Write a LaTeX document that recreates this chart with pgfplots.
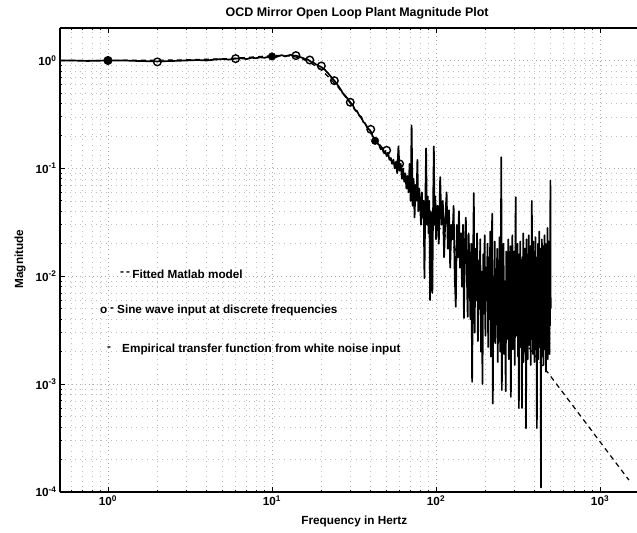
\documentclass[border=0pt]{standalone}
\usepackage{fontspec}
\setmainfont{Liberation Sans}
\usepackage{pgfplots}
\pgfplotsset{compat=1.18}
\newcommand\lab{\fontsize{11.8}{14}\selectfont\bfseries}
\newcommand\ttl{\fontsize{12.5}{15}\selectfont\bfseries}
\pgfplotstableread{
f m
0.51 1.0004
1 1.0015
2 1.006
3 1.0134
5 1.036
7 1.066
9 1.096
10 1.107
11 1.112
12 1.110
13 1.098
14 1.075
15 1.045
17 0.96
20 0.82
25 0.58
30 0.40
35 0.29
40 0.22
50 0.135
70 0.067
100 0.031
150 0.0135
200 0.0075
300 0.0033
500 0.00118
700 0.00060
1000 0.000292
1500 0.000129
}\fitted
\pgfplotstableread{
f m
1 1.00
2 0.97
6 1.04
14 1.11
17 1.01
20 0.89
24 0.65
30 0.41
40 0.23
50 0.147
60 0.11
}\sineopen
\pgfplotstableread{
f m
1 1.00
10 1.09
42.5 0.18
}\sinefilled
\pgfplotstableread{
f m
0.51 1.00
0.6 1.00
0.75 0.99
1.0 1.00
1.25 1.00
1.5 0.99
2.0 0.98
2.5 0.99
3.0 1.00
3.5 1.01
4.0 1.00
4.5 1.02
5.0 1.03
5.5 1.02
6.0 1.04
6.5 1.05
7.0 1.03
7.5 1.06
8.0 1.05
8.5 1.07
9.0 1.06
9.5 1.08
10 1.09
10.5 1.07
11 1.10
11.5 1.12
12 1.09
12.5 1.11
13 1.13
13.5 1.10
14 1.11
14.5 1.09
15 1.07
15.5 1.05
16 1.03
16.5 1.02
17 0.99
17.5 0.96
18 0.95
18.5 0.92
19 0.91
19.5 0.88
20 0.87
21 0.82
22 0.76
23 0.70
24 0.65
25 0.60
26 0.55
27 0.50
28 0.47
29 0.44
30 0.41
31 0.39
32 0.35
33 0.34
34 0.31
35 0.30
36 0.27
37 0.26
38 0.24
39 0.23
40 0.22
41 0.20
42 0.19
43 0.185
44 0.17
45 0.165
46 0.15
47 0.155
48 0.14
49 0.145
50 0.13
51 0.14
52 0.12
53 0.125
54 0.11
55 0.12
56 0.10
57 0.115
58 0.09
59 0.16
60 0.095
61 0.11
62 0.08
63 0.10
64 0.075
65 0.09
66 0.065
67 0.085
68 0.06
69 0.11
70 0.05
71 0.25
72 0.045
73 0.08
74 0.035
75 0.07
76 0.05
77 0.12
78 0.04
79 0.065
80 0.045
81 0.03
82 0.06
83 0.035
84 0.05
85 0.0096
86 0.045
87 0.153
88 0.03
89 0.055
90 0.025
91 0.05
92 0.006
93 0.04
94 0.028
95 0.007
96 0.045
97 0.16
98 0.03
99 0.055
100 0.022
102 0.045
104 0.02
106 0.083
108 0.03
110 0.05
112 0.015
114 0.035
116 0.06
118 0.018
120 0.041
122 0.012
124 0.03
126 0.022
128 0.045
130 0.01
132 0.0052
134 0.03
136 0.015
138 0.04
140 0.012
142 0.025
144 0.008
146 0.03
148 0.0041
150 0.02
152 0.035
154 0.011
156 0.0042
158 0.025
160 0.013
162 0.004
164 0.02
166 0.00105
168 0.012
170 0.059
172 0.003
174 0.018
176 0.006
178 0.025
180 0.0025
182 0.014
184 0.005
186 0.022
188 0.002
190 0.011
192 0.001
194 0.016
196 0.0045
198 0.024
200 0.0028
202 0.012
204 0.006
206 0.02
208 0.0022
210 0.015
212 0.004
214 0.026
216 0.0018
218 0.013
220 0.038
222 0.00066
224 0.009
226 0.0035
228 0.021
230 0.0024
232 0.011
234 0.005
236 0.018
238 0.0016
240 0.014
242 0.0038
244 0.023
246 0.002
248 0.01
250 0.127
252 0.00088
254 0.015
256 0.003
258 0.02
260 0.0019
262 0.009
264 0.0045
266 0.00086
268 0.017
270 0.0026
272 0.012
274 0.0055
276 0.022
278 0.0017
280 0.013
282 0.0032
284 0.019
286 0.00076
288 0.008
290 0.004
292 0.024
294 0.0021
296 0.011
298 0.0035
300 0.017
302 0.0015
304 0.01
306 0.054
308 0.0028
310 0.014
312 0.005
314 0.02
316 0.0018
318 0.009
320 0.0006
322 0.016
324 0.0033
326 0.021
328 0.0022
330 0.012
332 0.0045
334 0.0006
336 0.015
338 0.0027
340 0.025
342 0.0016
344 0.01
346 0.0038
348 0.018
350 0.002
352 0.013
354 0.00039
356 0.022
358 0.003
360 0.011
362 0.0017
364 0.016
366 0.0048
368 0.024
370 0.0023
372 0.009
374 0.0035
376 0.019
378 0.0015
380 0.012
382 0.0042
384 0.05
386 0.0026
388 0.014
390 0.0019
392 0.021
394 0.0055
396 0.01
398 0.0016
400 0.017
402 0.0031
404 0.023
406 0.0021
408 0.012
410 0.0045
412 0.00039
414 0.015
416 0.0028
418 0.02
420 0.0017
422 0.011
424 0.0036
426 0.026
428 0.0022
430 0.013
432 0.005
434 0.018
436 0.00011
438 0.016
440 0.0025
442 0.022
444 0.0018
446 0.01
448 0.004
450 0.019
452 0.0015
454 0.012
456 0.0033
458 0.024
460 0.0021
462 0.014
464 0.006
466 0.02
468 0.0013
470 0.011
472 0.0038
474 0.017
476 0.0024
478 0.028
480 0.0017
482 0.013
484 0.0045
486 0.021
488 0.0028
490 0.012
492 0.0019
494 0.018
496 0.0035
498 0.077
500 0.005
}\empirical
\begin{document}
\begin{tikzpicture}
\begin{axis}[
  xmode=log, ymode=log,
  scale only axis, width=577bp, height=464bp,
  xmin=0.51, xmax=1680, ymin=1e-4, ymax=2,
  axis x line=box, axis y line=left,
  axis line style={-, line width=1.1bp},
  tick align=inside,
  xtick={1,10,100,1000},
  ytick={1e-4,1e-3,1e-2,1e-1,1},
  minor xtick={0.6,0.7,0.8,0.9,2,3,4,5,6,7,8,9,20,30,40,50,60,70,80,90,200,300,400,500,600,700,800,900},
  minor ytick={2e-4,3e-4,4e-4,5e-4,6e-4,7e-4,8e-4,9e-4,2e-3,3e-3,4e-3,5e-3,6e-3,7e-3,8e-3,9e-3,2e-2,3e-2,4e-2,5e-2,6e-2,7e-2,8e-2,9e-2,0.2,0.3,0.4,0.5,0.6,0.7,0.8,0.9},
  xticklabels={10\textsuperscript{0},10\textsuperscript{1},10\textsuperscript{2},10\textsuperscript{3}},
  yticklabels={10\textsuperscript{-4},10\textsuperscript{-3},10\textsuperscript{-2},10\textsuperscript{-1},10\textsuperscript{0}},
  tick label style={font=\lab},
  major tick length=5bp, minor tick length=2.5bp,
  every tick/.style={black, line width=0.8bp},
  grid=both,
  major grid style={gray!65, line width=0.6bp, dash pattern=on 0.7bp off 3.4bp},
  minor grid style={gray!50, line width=0.6bp, dash pattern=on 0.7bp off 4.4bp},
  title={OCD Mirror Open Loop Plant Magnitude Plot},
  title style={font=\ttl, at={(0.515,1)}, anchor=center, yshift=9bp},
  xlabel={Frequency in Hertz},
  xlabel style={font=\lab, at={(0.51,0)}, anchor=center, yshift=-29bp},
  ylabel={Magnitude},
  ylabel style={font=\lab, at={(-0.0693,0.502)}, anchor=center},
]
\addplot[black, line width=1.2bp, dash pattern=on 5bp off 4bp] table[x=f,y=m] {\fitted};
\addplot[black, line width=1.7bp, line join=round] table[x=f,y=m] {\empirical};
\addplot[black, only marks, mark=o, mark size=3.8bp, mark options={line width=1.4bp, fill=white}] table[x=f,y=m] {\sineopen};
\addplot[black, only marks, mark=*, mark size=3.8bp] table[x=f,y=m] {\sinefilled};
\node[anchor=west, inner sep=0, font=\lab] at (rel axis cs:0.104,0.470) {-\,-};
\node[anchor=west, inner sep=0, font=\lab] at (rel axis cs:0.125,0.470) {Fitted Matlab model};
\node[anchor=west, inner sep=0, font=\lab] at (rel axis cs:0.0693,0.392) {o};
\node[anchor=west, inner sep=0, font=\lab] at (rel axis cs:0.0867,0.392) {-};
\node[anchor=west, inner sep=0, font=\lab] at (rel axis cs:0.0988,0.392) {Sine wave input at discrete frequencies};
\node[anchor=west, inner sep=0, font=\lab] at (rel axis cs:0.0815,0.308) {-};
\node[anchor=west, inner sep=0, font=\lab] at (rel axis cs:0.1075,0.308) {Empirical transfer function from white noise input};
\end{axis}
\pgfresetboundingbox
\path ([shift={(-60bp,-41bp)}]current axis.south west) rectangle ([shift={(0bp,28bp)}]current axis.north east);
\end{tikzpicture}
\end{document}
